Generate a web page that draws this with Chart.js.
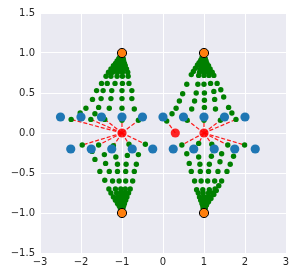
<!DOCTYPE html>
<html><head><meta charset="utf-8">
<script src="https://cdn.jsdelivr.net/npm/chart.js@4"></script>
<style>html,body{margin:0;padding:0;background:#fff;}canvas{display:block;}</style>
</head><body>
<canvas id="c" width="293" height="276"></canvas>
<script>
const xTicks = [-3, -2, -1, 0, 1, 2, 3];
const yTicks = [-1.5, -1.0, -0.5, 0.0, 0.5, 1.0, 1.5];

const blueX = [-2.5, -2, -1.5, -1, -0.5, 0, 0.5, 1, 1.5, 2,
               -2.25, -1.75, -1.25, -0.75, -0.25, 0.25, 0.75, 1.25, 1.75, 2.25];
const blueY = [0.2, 0.2, 0.2, 0.2, 0.2, 0.2, 0.2, 0.2, 0.2, 0.2,
               -0.2, -0.2, -0.2, -0.2, -0.2, -0.2, -0.2, -0.2, -0.2, -0.2];

const redX = [-1, 1, 0.3];
const redY = [0, 0, 0];

const orangeX = [-1, -1, 1, 1];
const orangeY = [1, -1, 1, -1];

// green trajectories, first dot is linked to a red centre
const pathsTL = [
  [[-2.24,0.17],[-2.02,0.25],[-1.88,0.31],[-1.72,0.42],[-1.62,0.53],[-1.50,0.62],[-1.39,0.71],[-1.33,0.76],[-1.27,0.80],[-1.21,0.84],[-1.16,0.87],[-1.12,0.90],[-1.08,0.93],[-1.05,0.95],[-1.03,0.97]],
  [[-1.76,0.17],[-1.66,0.24],[-1.57,0.32],[-1.51,0.43],[-1.46,0.53],[-1.36,0.62],[-1.27,0.71],[-1.23,0.76],[-1.18,0.80],[-1.14,0.84],[-1.10,0.87],[-1.07,0.90],[-1.05,0.93],[-1.03,0.95],[-1.02,0.97]],
  [[-1.42,0.17],[-1.31,0.31],[-1.27,0.43],[-1.25,0.53],[-1.17,0.62],[-1.12,0.71],[-1.11,0.76],[-1.09,0.80],[-1.07,0.84],[-1.05,0.87],[-1.04,0.90],[-1.03,0.93]],
  [[-1.00,0.16],[-1.00,0.31],[-1.00,0.43],[-1.00,0.53],[-0.99,0.62],[-0.99,0.71],[-0.99,0.76],[-0.99,0.80],[-0.99,0.84],[-1.00,0.87],[-1.00,0.90],[-1.00,0.93]],
  [[-0.60,0.16],[-0.70,0.30],[-0.76,0.43],[-0.76,0.53],[-0.83,0.62],[-0.85,0.71],[-0.86,0.76],[-0.89,0.80],[-0.92,0.84],[-0.94,0.87],[-0.96,0.90],[-0.97,0.93]]
];
const pathsTR = [
  [[0.09,0.15],[0.22,0.24],[0.32,0.31],[0.40,0.40],[0.48,0.49],[0.58,0.61],[0.69,0.73],[0.74,0.77],[0.79,0.81],[0.84,0.85],[0.88,0.88],[0.92,0.91],[0.95,0.94],[0.97,0.96]],
  [[0.59,0.16],[0.70,0.30],[0.77,0.40],[0.81,0.50],[0.85,0.61],[0.87,0.72],[0.89,0.76],[0.91,0.80],[0.93,0.84],[0.95,0.87],[0.97,0.90],[0.98,0.93]],
  [[1.00,0.16],[1.01,0.32],[1.01,0.41],[1.01,0.50],[1.00,0.61],[1.00,0.72],[1.00,0.76],[1.00,0.80],[1.00,0.84],[1.00,0.87],[1.00,0.90],[1.00,0.93]],
  [[1.40,0.16],[1.28,0.30],[1.26,0.42],[1.24,0.52],[1.16,0.62],[1.12,0.72],[1.10,0.76],[1.08,0.80],[1.06,0.84],[1.04,0.87],[1.03,0.90],[1.02,0.93]],
  [[1.78,0.17],[1.68,0.25],[1.60,0.32],[1.48,0.45],[1.41,0.54],[1.32,0.62],[1.24,0.72],[1.20,0.76],[1.15,0.80],[1.11,0.84],[1.07,0.87],[1.05,0.90],[1.03,0.93]]
];
const pathsBL = [
  [[-1.97,-0.15],[-1.73,-0.23],[-1.66,-0.33],[-1.54,-0.48],[-1.42,-0.59],[-1.32,-0.70],[-1.27,-0.75],[-1.21,-0.80],[-1.16,-0.84],[-1.11,-0.88],[-1.07,-0.91],[-1.04,-0.94],[-1.02,-0.97]],
  [[-1.57,-0.15],[-1.43,-0.27],[-1.40,-0.38],[-1.31,-0.48],[-1.23,-0.60],[-1.16,-0.70],[-1.13,-0.75],[-1.10,-0.80],[-1.07,-0.84],[-1.05,-0.88],[-1.03,-0.91],[-1.02,-0.94]],
  [[-1.21,-0.16],[-1.15,-0.30],[-1.11,-0.39],[-1.11,-0.48],[-1.07,-0.60],[-1.03,-0.70],[-1.02,-0.75],[-1.01,-0.80],[-1.01,-0.84],[-1.00,-0.88],[-1.00,-0.91],[-1.00,-0.94]],
  [[-0.83,-0.14],[-0.87,-0.28],[-0.90,-0.39],[-0.91,-0.48],[-0.91,-0.60],[-0.92,-0.70],[-0.93,-0.75],[-0.95,-0.80],[-0.96,-0.84],[-0.97,-0.88],[-0.98,-0.91],[-0.99,-0.94]],
  [[-0.43,-0.14],[-0.60,-0.27],[-0.65,-0.39],[-0.70,-0.48],[-0.74,-0.60],[-0.80,-0.70],[-0.84,-0.75],[-0.88,-0.80],[-0.91,-0.84],[-0.94,-0.88],[-0.96,-0.91],[-0.98,-0.94]]
];
const pathsBR = [
  [[0.46,-0.15],[0.58,-0.26],[0.64,-0.38],[0.69,-0.48],[0.77,-0.60],[0.82,-0.71],[0.86,-0.75],[0.89,-0.80],[0.92,-0.84],[0.95,-0.88],[0.97,-0.91],[0.98,-0.94]],
  [[0.87,-0.13],[0.87,-0.30],[0.90,-0.39],[0.91,-0.48],[0.93,-0.60],[0.97,-0.71],[0.98,-0.75],[0.99,-0.80],[1.00,-0.84],[1.00,-0.88],[1.00,-0.91],[1.00,-0.94]],
  [[1.19,-0.14],[1.18,-0.29],[1.13,-0.39],[1.11,-0.48],[1.09,-0.60],[1.13,-0.71],[1.11,-0.75],[1.08,-0.80],[1.06,-0.84],[1.04,-0.88],[1.02,-0.91],[1.01,-0.94]],
  [[1.58,-0.15],[1.43,-0.26],[1.39,-0.36],[1.34,-0.48],[1.26,-0.60],[1.27,-0.70],[1.22,-0.75],[1.16,-0.80],[1.11,-0.84],[1.07,-0.88],[1.04,-0.91],[1.02,-0.94]],
  [[1.99,-0.15],[1.72,-0.29],[1.64,-0.39],[1.56,-0.48],[1.43,-0.60],[1.36,-0.66],[1.30,-0.72],[1.24,-0.77],[1.17,-0.82],[1.11,-0.86],[1.06,-0.90],[1.03,-0.94]]
];
const linkTL = [0, 0, 0, 0, 0];
const linkTR = [2, 1, 1, 1, 1];
const linkBL = [0, 0, 0, 0, 0];
const linkBR = [1, 1, 1, 1, 1];

const minus = s => String(s).replace('-', '\u2212');
const pts = (xs, ys) => xs.map((x, i) => ({x, y: ys[i]}));

const datasets = [];
// dashed red links
[[pathsTL, linkTL], [pathsTR, linkTR], [pathsBL, linkBL], [pathsBR, linkBR]].forEach(([paths, links]) => {
  paths.forEach((p, i) => {
    const r = links[i];
    datasets.push({
      data: [{x: redX[r], y: redY[r]}, {x: p[0][0], y: p[0][1]}],
      showLine: true, borderColor: 'rgba(255,0,0,0.9)', borderWidth: 1.2,
      borderDash: [4, 2], pointRadius: 0, fill: false, order: 5
    });
  });
});
// green dots
const greenPts = [];
[pathsTL, pathsTR, pathsBL, pathsBR].forEach(paths => paths.forEach(p => p.forEach(([x, y]) => greenPts.push({x, y}))));
datasets.push({data: greenPts, pointRadius: 2.7, pointBackgroundColor: '#008000', pointBorderWidth: 0, order: 4});
datasets.push({data: pts(blueX, blueY), pointRadius: 4.6, pointBackgroundColor: '#1f77b4', pointBorderWidth: 0, order: 3});
datasets.push({data: pts(redX, redY), pointRadius: 4.6, pointBackgroundColor: 'rgba(255,0,0,0.85)', pointBorderWidth: 0, order: 2});
datasets.push({data: pts(orangeX, orangeY), pointRadius: 4.6, pointBackgroundColor: '#ff7f0e', pointBorderColor: '#000', pointBorderWidth: 1, order: 1});

const bg = {
  id: 'bg',
  beforeDraw(chart) {
    const {ctx, chartArea: a} = chart;
    ctx.save();
    ctx.fillStyle = '#eaeaf2';
    ctx.fillRect(a.left, a.top, a.right - a.left, a.bottom - a.top);
    ctx.restore();
  }
};

new Chart(document.getElementById('c'), {
  type: 'scatter',
  data: {datasets},
  options: {
    responsive: false, animation: false, devicePixelRatio: 1,
    plugins: {legend: {display: false}, tooltip: {enabled: false}},
    layout: {padding: {left: 0, right: 7, top: 13, bottom: 0}},
    scales: {
      x: {
        min: -3, max: 3,
        afterBuildTicks: s => { s.ticks = xTicks.map(v => ({value: v})); },
        afterFit: s => { s.height = 23; },
        ticks: {callback: v => minus(v), color: '#262626', padding: 3, maxRotation: 0,
                font: {family: 'DejaVu Sans', size: 10}},
        grid: {color: '#ffffff', lineWidth: 1, drawTicks: false},
        border: {display: false}
      },
      y: {
        min: -1.5, max: 1.5,
        afterBuildTicks: s => { s.ticks = yTicks.map(v => ({value: v})); },
        afterFit: s => { s.width = 40; },
        ticks: {callback: v => minus(Number(v).toFixed(1)), color: '#262626', padding: 5,
                font: {family: 'DejaVu Sans', size: 10}},
        grid: {color: '#ffffff', lineWidth: 1, drawTicks: false},
        border: {display: false}
      }
    }
  },
  plugins: [bg]
});
</script>
</body></html>
